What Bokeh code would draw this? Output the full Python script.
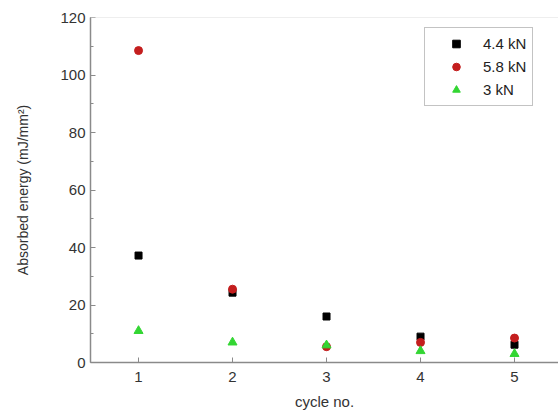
from bokeh.plotting import figure
from bokeh.models import Range1d, FixedTicker, Span, Legend, LegendItem
from bokeh.embed import file_html
from bokeh.resources import INLINE

cycles = [1, 2, 3, 4, 5]
e_44 = [37.2, 24.3, 16.0, 9.0, 6.2]
e_58 = [108.5, 25.5, 5.5, 7.0, 8.5]
e_30 = [11.0, 7.0, 6.0, 4.0, 3.0]
y_ticks = [0, 20, 40, 60, 80, 100, 120]

p = figure(width=558, height=414, output_backend="svg", toolbar_location=None,
           x_range=Range1d(0.489, 5.468), y_range=Range1d(0, 120),
           min_border_left=90, min_border_right=0, min_border_top=17, min_border_bottom=52)
p.outline_line_color = None
p.grid.visible = False
p.background_fill_color = "white"
p.border_fill_color = "white"

font = "Liberation Sans"
for ax in (p.xaxis[0], p.yaxis[0]):
    ax.axis_line_color = "#8a8a8a"
    ax.axis_line_width = 1.5
    ax.major_tick_line_color = "#8a8a8a"
    ax.minor_tick_line_color = "#8a8a8a"
    ax.major_tick_in = 5
    ax.major_tick_out = 0
    ax.minor_tick_in = 3
    ax.minor_tick_out = 0
    ax.major_label_text_font = font
    ax.major_label_text_font_size = "15px"
    ax.major_label_text_color = "#333333"
    ax.axis_label_text_font = font
    ax.axis_label_text_font_style = "normal"
    ax.axis_label_text_color = "#333333"

p.xaxis.axis_label_text_font_size = "15px"
p.yaxis.axis_label_text_font_size = "14px"
p.xaxis.ticker = FixedTicker(ticks=cycles)
p.yaxis.ticker = FixedTicker(ticks=y_ticks, minor_ticks=list(range(0, 121, 10)))
p.xaxis.axis_label = "cycle no."
p.yaxis.axis_label = "Absorbed energy (mJ/mm²)"
p.xaxis.major_label_standoff = 9
p.yaxis.major_label_standoff = 5
p.xaxis.axis_label_standoff = 8
p.yaxis.axis_label_standoff = 26

p.add_layout(Span(location=120, dimension="width", line_color="#dddddd", line_width=1))

r1 = p.scatter(cycles, e_44, marker="square", size=7, color="black")
r2 = p.scatter(cycles, e_58, marker="circle", size=8, color="#c41e1e")
r3 = p.scatter(cycles, e_30, marker="triangle", size=9, color="#33d633")

legend = Legend(items=[LegendItem(label="4.4 kN", renderers=[r1]),
                       LegendItem(label="5.8 kN", renderers=[r2]),
                       LegendItem(label="3 kN", renderers=[r3])],
                location=(334, 256))
legend.label_text_font = font
legend.label_text_font_size = "15px"
legend.label_text_color = "#222222"
legend.border_line_color = "#888888"
legend.border_line_width = 1
legend.background_fill_alpha = 1
legend.glyph_width = 50
legend.label_height = 19
legend.glyph_height = 19
legend.spacing = 4
legend.padding = 6
legend.margin = 0
legend.label_standoff = 2
p.add_layout(legend, "center")

open("out.html", "w").write(file_html(p, INLINE))
